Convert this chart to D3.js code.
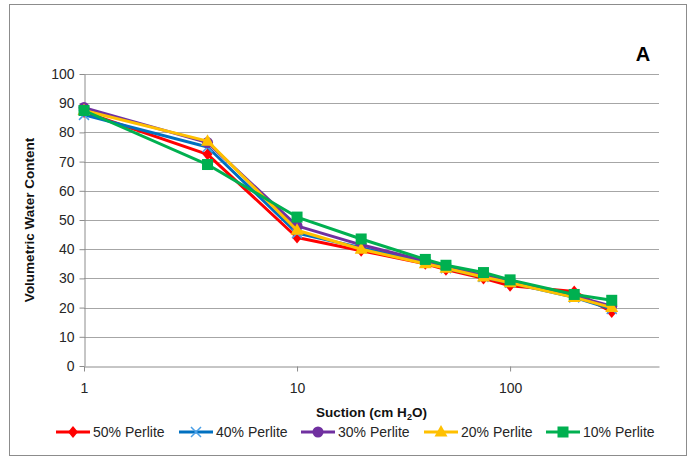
<!DOCTYPE html>
<html>
<head>
<meta charset="utf-8">
<script src="https://cdn.jsdelivr.net/npm/d3@7"></script>
<style>
  html, body { margin: 0; padding: 0; background: #fff; }
  svg { display: block; font-family: "Liberation Sans", Arial, sans-serif; }
</style>
</head>
<body>
<svg id="chart" width="690" height="457"></svg>
<script>
// Suction steps (cm H2O)
const suction = [1, 3.8, 10, 20, 40, 50, 75, 100, 200, 300];

// Volumetric water content for each perlite mix
const perlite50 = [87, 72.5, 44, 39.5, 35, 33, 30, 27.5, 25.5, 18.5];
const perlite40 = [86, 75, 45.5, 40.5, 35.5, 33.5, 30.5, 28.5, 23.5, 19.5];
const perlite30 = [88.5, 76.5, 48, 41.5, 36, 34, 31, 29, 24, 20.5];
const perlite20 = [87.5, 77, 46.5, 40, 35, 33.5, 30.5, 28.5, 23.5, 20];
const perlite10 = [87.5, 69, 51, 43.5, 36.5, 34.5, 32, 29.5, 24.5, 22.5];

const seriesNames = ["50% Perlite", "40% Perlite", "30% Perlite", "20% Perlite", "10% Perlite"];
const seriesColors = ["#ff0000", "#0070c0", "#7030a0", "#ffc000", "#00b050"];
const seriesMarkers = ["diamond", "cross", "circle", "triangle", "square"];

const xTicks = [1, 10, 100];
const yTicks = [0, 10, 20, 30, 40, 50, 60, 70, 80, 90, 100];

const series = [perlite50, perlite40, perlite30, perlite20, perlite10].map((vals, i) => ({
  name: seriesNames[i],
  color: seriesColors[i],
  marker: seriesMarkers[i],
  points: vals.map((v, j) => ({ x: suction[j], y: v }))
}));

const svg = d3.select("#chart");

// Chart frame
svg.append("rect")
  .attr("x", 9.5).attr("y", 4.5)
  .attr("width", 677).attr("height", 451)
  .attr("fill", "#fff").attr("stroke", "#8c8c8c").attr("stroke-width", 1);

const plot = { left: 84, right: 659, top: 74, bottom: 366 };

const x = d3.scaleLog().domain([1, 500]).range([plot.left, plot.right]);
const y = d3.scaleLinear().domain([0, 100]).range([plot.bottom, plot.top]);

// Horizontal gridlines
svg.append("g")
  .selectAll("line")
  .data(yTicks.filter(t => t > 0))
  .join("line")
  .attr("x1", plot.left).attr("x2", plot.right)
  .attr("y1", d => Math.round(y(d)) + 0.5).attr("y2", d => Math.round(y(d)) + 0.5)
  .attr("stroke", "#a6a6a6").attr("stroke-width", 1);

// Y axis
const yAxis = svg.append("g")
  .attr("transform", `translate(${plot.left + 0.5},0)`)
  .call(d3.axisLeft(y).tickValues(yTicks).tickSize(5).tickSizeOuter(0).tickPadding(5).tickFormat(d3.format("d")));
yAxis.select(".domain").attr("stroke", "#8c8c8c");
yAxis.selectAll(".tick line").attr("stroke", "#8c8c8c");
yAxis.selectAll(".tick text")
  .attr("fill", "#262626")
  .style("font-size", "14px")
  .style("font-family", "'Liberation Sans', Arial, sans-serif");

// X axis (logarithmic)
const xAxis = svg.append("g")
  .attr("transform", `translate(0,${plot.bottom + 0.5})`)
  .call(d3.axisBottom(x).tickValues(xTicks).tickSize(5).tickSizeOuter(0).tickPadding(12).tickFormat(d3.format("d")));
xAxis.select(".domain").attr("stroke", "#8c8c8c");
xAxis.selectAll(".tick line").attr("stroke", "#8c8c8c");
xAxis.selectAll(".tick text")
  .attr("fill", "#262626")
  .style("font-size", "14px")
  .style("font-family", "'Liberation Sans', Arial, sans-serif");

// Axis titles
const xTitle = svg.append("text")
  .attr("x", (plot.left + plot.right) / 2)
  .attr("y", 417)
  .attr("text-anchor", "middle")
  .attr("font-weight", "bold")
  .attr("font-size", 13.5)
  .attr("fill", "#111");
xTitle.append("tspan").text("Suction (cm H");
xTitle.append("tspan").attr("font-size", 9).attr("dy", 3).text("2");
xTitle.append("tspan").attr("dy", -3).text("O)");

svg.append("text")
  .attr("transform", `translate(34,${(plot.top + plot.bottom) / 2}) rotate(-90)`)
  .attr("text-anchor", "middle")
  .attr("font-weight", "bold")
  .attr("font-size", 13.5)
  .attr("fill", "#111")
  .text("Volumetric Water Content");

// Panel letter
svg.append("text")
  .attr("x", 643).attr("y", 61)
  .attr("text-anchor", "middle")
  .attr("font-weight", "bold")
  .attr("font-size", 20)
  .attr("fill", "#000")
  .text("A");

// Marker drawing helper
function drawMarker(g, type, color, cx, cy) {
  if (type === "diamond") {
    g.append("path")
      .attr("d", `M${cx},${cy - 6}L${cx + 5},${cy}L${cx},${cy + 6}L${cx - 5},${cy}Z`)
      .attr("fill", color);
  } else if (type === "cross") {
    g.append("path")
      .attr("d", `M${cx - 5},${cy - 5}L${cx + 5},${cy + 5}M${cx - 5},${cy + 5}L${cx + 5},${cy - 5}`)
      .attr("stroke", "#4a9fe6").attr("stroke-width", 1.5).attr("fill", "none");
  } else if (type === "circle") {
    g.append("circle").attr("cx", cx).attr("cy", cy).attr("r", 5.5).attr("fill", color);
  } else if (type === "triangle") {
    g.append("path")
      .attr("d", `M${cx},${cy - 7}L${cx + 6.5},${cy + 4.5}L${cx - 6.5},${cy + 4.5}Z`)
      .attr("fill", color);
  } else if (type === "square") {
    g.append("rect").attr("x", cx - 5.5).attr("y", cy - 5.5)
      .attr("width", 11).attr("height", 11).attr("fill", color);
  }
}

// Series lines and markers
const line = d3.line().x(d => x(d.x)).y(d => y(d.y));
series.forEach(s => {
  const g = svg.append("g");
  g.append("path")
    .datum(s.points)
    .attr("d", line)
    .attr("fill", "none")
    .attr("stroke", s.color)
    .attr("stroke-width", 3)
    .attr("stroke-linejoin", "round");
  s.points.forEach(p => drawMarker(g, s.marker, s.color, x(p.x), y(p.y)));
});

// Legend
const legendItems = [
  { lx: 56, tx: 93 },
  { lx: 179, tx: 216 },
  { lx: 301, tx: 338 },
  { lx: 424, tx: 461 },
  { lx: 546, tx: 583 }
];
const legendY = 432;
series.forEach((s, i) => {
  const g = svg.append("g");
  const it = legendItems[i];
  g.append("line")
    .attr("x1", it.lx).attr("x2", it.lx + 34)
    .attr("y1", legendY).attr("y2", legendY)
    .attr("stroke", s.color).attr("stroke-width", 3);
  drawMarker(g, s.marker, s.color, it.lx + 17, legendY);
  g.append("text")
    .attr("x", it.tx).attr("y", legendY + 5)
    .attr("font-size", 14)
    .attr("fill", "#262626")
    .text(s.name);
});
</script>
</body>
</html>
